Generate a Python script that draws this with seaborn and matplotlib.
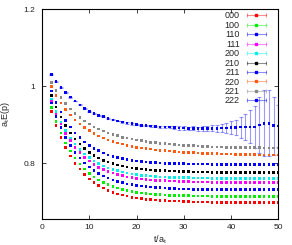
import matplotlib
matplotlib.use("Agg")
import matplotlib.pyplot as plt
import pandas as pd
import seaborn as sns
from matplotlib.lines import Line2D
from matplotlib.legend_handler import HandlerLine2D, HandlerTuple

# time slices t/a_t
t = list(range(2, 51))

e000 = [.934, .898, .867, .841, .819, .800, .785, .771, .760, .751,
        .743, .736, .730, .725, .721, .718, .715, .712, .710, .709,
        .707, .706, .705, .704, .703, .702, .702, .702, .701, .701,
        .700, .700, .700, .700, .699, .699, .699, .699, .699, .699,
        .699, .699, .699, .699, .699, .699, .699, .699, .699]
e100 = [.945, .909, .879, .853, .832, .814, .798, .785, .774, .765,
        .757, .750, .745, .740, .736, .733, .730, .727, .725, .723,
        .722, .721, .720, .719, .718, .717, .717, .716, .716, .716,
        .715, .715, .715, .715, .714, .714, .714, .714, .714, .714,
        .714, .714, .714, .714, .714, .714, .714, .714, .714]
e110 = [.957, .922, .893, .868, .847, .829, .814, .801, .791, .782,
        .774, .767, .762, .757, .753, .750, .747, .745, .743, .741,
        .740, .739, .738, .737, .736, .735, .735, .734, .734, .734,
        .733, .733, .733, .733, .732, .732, .732, .732, .732, .732,
        .732, .732, .732, .732, .732, .732, .732, .732, .732]
e111 = [.962, .929, .902, .878, .859, .842, .828, .816, .806, .797,
        .790, .784, .779, .775, .771, .768, .765, .763, .761, .760,
        .758, .757, .756, .755, .755, .754, .754, .753, .753, .753,
        .752, .752, .752, .752, .751, .751, .751, .751, .751, .751,
        .751, .751, .751, .751, .751, .751, .751, .751, .751]
e200 = [.967, .935, .908, .885, .866, .850, .836, .824, .815, .806,
        .799, .793, .788, .784, .781, .778, .775, .773, .771, .769,
        .768, .767, .766, .765, .765, .764, .764, .763, .763, .763,
        .762, .762, .762, .762, .761, .761, .761, .761, .761, .761,
        .761, .761, .761, .761, .761, .761, .761, .761, .761]
e210 = [.977, .946, .920, .898, .879, .863, .850, .839, .829, .821,
        .814, .808, .804, .799, .796, .793, .791, .788, .787, .785,
        .784, .783, .782, .781, .781, .780, .780, .779, .779, .779,
        .778, .778, .778, .778, .777, .777, .777, .777, .777, .777,
        .777, .777, .777, .777, .777, .777, .777, .777, .777]
e211 = [.988, .958, .933, .912, .894, .879, .867, .856, .847, .839,
        .833, .827, .822, .818, .815, .812, .810, .808, .806, .805,
        .804, .803, .802, .801, .800, .800, .799, .799, .799, .798,
        .798, .798, .798, .798, .797, .797, .797, .797, .797, .797,
        .797, .797, .797, .797, .797, .797, .797, .797, .797]
e220 = [.999, .976, .957, .940, .926, .913, .902, .893, .885, .877,
        .871, .866, .861, .857, .853, .850, .847, .844, .842, .840,
        .838, .837, .835, .834, .833, .832, .831, .830, .829, .828,
        .828, .827, .826, .826, .825, .825, .824, .824, .824, .823,
        .823, .823, .823, .823, .822, .822, .822, .822, .822]
e221 = [1.010, .989, .971, .955, .941, .929, .919, .910, .902, .895,
        .889, .884, .879, .875, .872, .868, .866, .863, .861, .859,
        .857, .855, .854, .852, .851, .850, .849, .848, .847, .847,
        .846, .845, .844, .844, .843, .843, .843, .842, .842, .842,
        .842, .841, .841, .841, .841, .840, .840, .840, .840]
e222 = [1.031, 1.013, .997, .984, .972, .962, .952, .943, .934, .929,
        .925, .921, .917, .913, .910, .907, .905, .903, .901, .899,
        .898, .897, .896, .895, .894, .894, .893, .892, .892, .891,
        .891, .890, .890, .890, .891, .891, .892, .892, .893, .893,
        .894, .894, .895, .895, .900, .904, .904, .898, .897]
err222 = [.001, .001, .001, .001, .001, .001, .001, .001, .001, .001,
          .001, .001, .001, .001, .001, .002, .002, .002, .002, .002,
          .002, .002, .002, .003, .003, .003, .003, .004, .004, .004,
          .005, .005, .006, .007, .008, .009, .011, .014, .017, .020,
          .027, .034, .043, .054, .072, .086, .086, .075, .055]

labels = ["000", "100", "110", "111", "200", "210", "211", "220", "221", "222"]
series = [e000, e100, e110, e111, e200, e210, e211, e220, e221, e222]
colors = ["#ff0000", "#00ee00", "#0000ff", "#ff00ff", "#00eeee",
          "#000000", "#0000ff", "#ff5a14", "#888888", "#0000ff"]

df = pd.concat([pd.DataFrame({"t": t, "E": v, "p": lab})
                for lab, v in zip(labels, series)], ignore_index=True)

sns.set_style("ticks")
plt.rcParams["font.family"] = ["Liberation Sans", "DejaVu Sans"]

fig = plt.figure(figsize=(2.92, 2.45), dpi=100)
ax = fig.add_axes([0.1438, 0.105, 0.8094, 0.857])

ax.errorbar(t, e222, yerr=err222, fmt="none", ecolor="#0000ff", alpha=0.4,
            elinewidth=0.8, capsize=1.5, capthick=0.8, zorder=2)
sns.scatterplot(data=df, x="t", y="E", hue="p", palette=dict(zip(labels, colors)),
                marker="s", s=3.5, linewidth=0, legend=False, ax=ax, zorder=3)

ax.set_xlim(0, 50)
ax.set_ylim(0.655, 1.2)
ax.set_xticks([0, 10, 20, 30, 40, 50])
ax.set_yticks([0.8, 1.0, 1.2], ["0.8", "1", "1.2"])
ax.tick_params(direction="in", top=True, right=True, length=3, width=0.6,
               labelsize=6, colors="#222222")
ax.tick_params(axis="y", pad=5)
for sp in ax.spines.values():
    sp.set_linewidth(0.8)
    sp.set_color("black")
ax.set_xlabel("t/a$_\\mathregular{t}$", fontsize=6.5)
ax.set_ylabel("a$_\\mathregular{t}$E(p)", fontsize=6.5)
ax.xaxis.set_label_coords(0.5, -0.07)
ax.yaxis.set_label_coords(-0.127, 0.5)

handles = []
hmap = {}
for c in colors:
    bar = Line2D([], [], color=c, alpha=0.45, lw=0.8, marker="|", markersize=3,
                 markeredgewidth=0.8)
    dot = Line2D([], [], color=c, marker="s", markersize=1.9, ls="none")
    hmap[bar] = HandlerLine2D(numpoints=2)
    handles.append((bar, dot))
hmap[tuple] = HandlerTuple(ndivide=1)
ax.legend(handles, labels, handler_map=hmap, loc="upper right",
          bbox_to_anchor=(0.959, 0.99), borderaxespad=0, borderpad=0,
          frameon=False, markerfirst=False, fontsize=6.5, numpoints=1,
          handlelength=2.7, handletextpad=0.5, labelspacing=0.05)

fig.savefig("out.png", dpi=100)
